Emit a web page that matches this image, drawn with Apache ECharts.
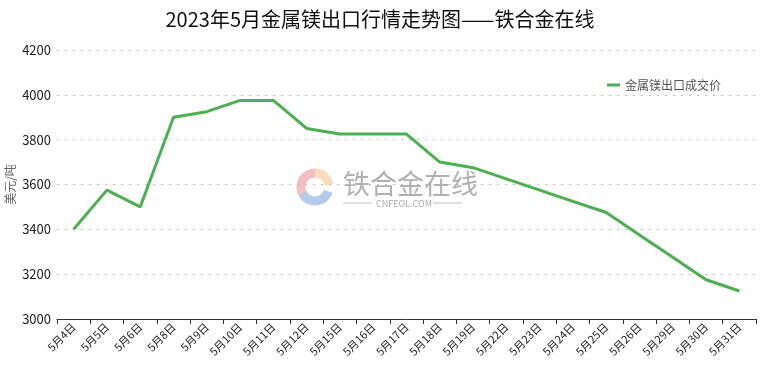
<!DOCTYPE html>
<html><head><meta charset="utf-8">
<script src="https://cdn.jsdelivr.net/npm/echarts@6/dist/echarts.min.js"></script>
<style>html,body{margin:0;padding:0;background:#fff}#c{width:760px;height:374px}</style>
</head><body><div id="c"></div>
<script>
const titleText = '2023年5月金属镁出口行情走势图——铁合金在线';
const seriesName = '金属镁出口成交价';
const yAxisName = '美元/吨';
const categories = ['5月4日','5月5日','5月6日','5月8日','5月9日','5月10日','5月11日','5月12日','5月15日','5月16日','5月17日','5月18日','5月19日','5月22日','5月23日','5月24日','5月25日','5月26日','5月29日','5月30日','5月31日'];
const values = [3400,3575,3500,3900,3925,3975,3975,3850,3825,3825,3825,3700,3675,3625,3575,3525,3475,3375,3275,3175,3125];
const yMin = 3000, yMax = 4200, yStep = 200;

const chart = echarts.init(document.getElementById('c'), null, {renderer:'canvas'});
const font = '"Noto Sans CJK SC","Noto Sans",sans-serif';
chart.setOption({
  animation:false,
  textStyle:{fontFamily:font},
  title:{text:titleText,left:'center',top:4,textStyle:{fontSize:20,fontWeight:'normal',color:'#111',fontFamily:font}},
  legend:{right:34,top:74,icon:'rect',itemWidth:13,itemHeight:3,itemGap:9,
    textStyle:{fontSize:12,color:'#555',fontFamily:font},data:[seriesName]},
  grid:{left:57,right:4,top:50,bottom:55,containLabel:false,outerBoundsMode:'none'},
  graphic:[
    {type:'arc',shape:{cx:315,cy:187,r:14,startAngle:Math.PI*0.85,endAngle:Math.PI*1.5},style:{stroke:'rgba(232,140,140,0.55)',lineWidth:9,fill:null},silent:true,z:0},
    {type:'arc',shape:{cx:315,cy:187,r:14,startAngle:Math.PI*1.5,endAngle:Math.PI*1.95},style:{stroke:'rgba(245,190,130,0.55)',lineWidth:9,fill:null},silent:true,z:0},
    {type:'arc',shape:{cx:315,cy:187,r:14,startAngle:Math.PI*0.1,endAngle:Math.PI*0.85},style:{stroke:'rgba(120,160,215,0.55)',lineWidth:9,fill:null},silent:true,z:0},
    {type:'text',left:343,top:170,silent:true,z:0,style:{text:'铁合金在线',font:'27px '+font,fill:'rgba(150,150,150,0.75)'}},
    {type:'text',left:376,top:199,silent:true,z:0,style:{text:'CNFEOL.COM',font:'9px '+font,fill:'rgba(150,150,150,0.8)'}},
    {type:'line',shape:{x1:343,y1:203,x2:372,y2:203},silent:true,z:0,style:{stroke:'rgba(170,170,170,0.7)',lineWidth:1}},
    {type:'line',shape:{x1:433,y1:203,x2:462,y2:203},silent:true,z:0,style:{stroke:'rgba(170,170,170,0.7)',lineWidth:1}}
  ],
  xAxis:{type:'category',data:categories,boundaryGap:true,
    axisLine:{lineStyle:{color:'#333',width:1}},
    axisTick:{show:true,alignWithLabel:false,length:5,lineStyle:{color:'#333'}},
    axisLabel:{rotate:45,interval:0,fontSize:11,color:'#222',margin:6,fontFamily:font},
    splitLine:{show:false}},
  yAxis:{type:'value',min:yMin,max:yMax,interval:yStep,
    name:yAxisName,nameLocation:'middle',nameGap:41,nameRotate:90,nameMoveOverlap:false,
    nameTextStyle:{fontSize:12,color:'#666',fontFamily:font},
    axisLine:{show:false},axisTick:{show:false},
    axisLabel:{fontSize:13,color:'#222',margin:6,fontFamily:font,formatter:v=>String(v)},
    splitLine:{show:true,lineStyle:{color:'#bbb',type:[2,6],width:1}}},
  series:[{name:seriesName,type:'line',data:values,showSymbol:false,symbol:'none',
    lineStyle:{color:'#4CAF50',width:3},itemStyle:{color:'#4CAF50'},z:3}]
});
</script></body></html>
